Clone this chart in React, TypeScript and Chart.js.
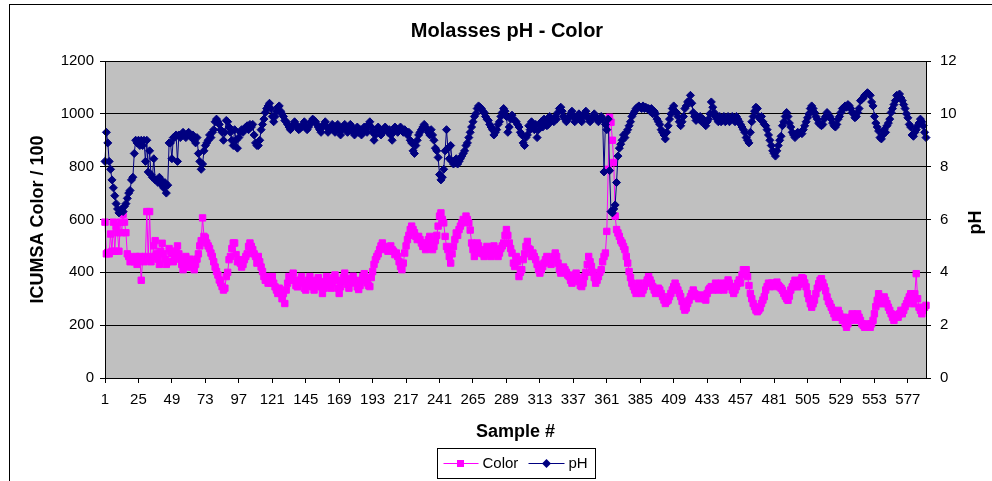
import React, { useEffect, useRef } from 'react';
import { Chart, registerables } from 'chart.js';

Chart.register(...registerables);

const FONT = '"Liberation Sans", Arial, Helvetica, sans-serif';

const chartTitle = 'Molasses pH - Color';
const xAxisTitle = 'Sample #';
const yAxisTitle = 'ICUMSA Color / 100';
const y1AxisTitle = 'pH';
const colorName = 'Color';
const phName = 'pH';

const colorTicks = [0, 200, 400, 600, 800, 1000, 1200];
const phTicks = [0, 2, 4, 6, 8, 10, 12];
const labelEvery = 24;

// ICUMSA Color / 100, samples 1..590
const colorValues = [
  590, 470, 475, 470, 545, 480, 590, 480, 575, 550,
  480, 590, 550, 620, 590, 550, 470, 460, 440, 450,
  450, 440, 460, 430, 445, 460, 370, 450, 440, 460,
  630, 450, 630, 440, 460, 500, 520, 470, 450, 430,
  480, 510, 470, 450, 430, 440, 490, 480, 470, 440,
  460, 480, 500, 470, 450, 430, 410, 440, 460, 420,
  430, 450, 420, 440, 410, 430, 450, 470, 500, 520,
  606, 536, 530, 511, 500, 490, 473, 460, 440, 420,
  403, 390, 371, 360, 346, 333, 340, 384, 400, 448,
  460, 490, 511, 511, 467, 440, 448, 435, 420, 430,
  448, 460, 470, 498, 511, 498, 486, 470, 460, 435,
  460, 440, 420, 403, 384, 370, 384, 359, 370, 359,
  384, 359, 345, 333, 320, 340, 320, 300, 320, 282,
  333, 359, 384, 370, 384, 397, 370, 350, 345, 360,
  370, 384, 360, 340, 333, 350, 370, 384, 365, 345,
  333, 350, 370, 380, 360, 345, 320, 340, 365, 384,
  370, 350, 340, 360, 380, 390, 370, 340, 320, 345,
  365, 380, 397, 375, 355, 340, 360, 375, 385, 370,
  360, 345, 335, 350, 370, 385, 395, 380, 360, 350,
  346, 380, 403, 430, 448, 460, 470, 486, 500, 511,
  498, 490, 486, 480, 490, 500, 486, 480, 467, 473,
  460, 440, 422, 410, 435, 473, 500, 524, 540, 562,
  575, 562, 550, 536, 524, 536, 524, 511, 498, 511,
  486, 498, 524, 536, 511, 486, 498, 520, 540, 575,
  613, 625, 600, 587, 536, 498, 486, 460, 435, 470,
  498, 524, 549, 540, 562, 575, 587, 600, 590, 613,
  600, 587, 560, 511, 486, 460, 486, 511, 500, 473,
  486, 470, 460, 480, 498, 490, 470, 460, 480, 500,
  486, 470, 460, 473, 490, 500, 511, 540, 562, 540,
  511, 490, 473, 435, 422, 460, 440, 384, 400, 410,
  448, 470, 498, 517, 490, 486, 460, 473, 460, 448,
  430, 410, 397, 410, 422, 435, 448, 460, 448, 440,
  430, 448, 460, 473, 460, 435, 410, 397, 410, 420,
  410, 400, 390, 384, 370, 359, 371, 390, 397, 380,
  365, 350, 346, 359, 384, 400, 430, 460, 440, 422,
  400, 380, 359, 370, 384, 400, 410, 440, 460, 473,
  555, 790, 987, 968, 900, 816, 613, 562, 549, 536,
  520, 511, 498, 486, 460, 435, 403, 380, 359, 346,
  333, 320, 333, 359, 333, 320, 333, 346, 360, 371,
  384, 371, 359, 346, 333, 320, 333, 340, 333, 320,
  308, 295, 282, 290, 295, 308, 320, 333, 346, 359,
  346, 333, 320, 308, 290, 270, 257, 265, 282, 295,
  308, 320, 333, 320, 314, 308, 300, 308, 314, 308,
  300, 295, 320, 333, 340, 346, 333, 340, 359, 346,
  333, 346, 359, 340, 333, 346, 359, 371, 359, 346,
  333, 320, 333, 346, 359, 371, 360, 390, 410, 397,
  410, 384, 350, 320, 300, 282, 270, 257, 251, 257,
  265, 282, 295, 308, 333, 346, 359, 346, 359, 359,
  346, 357, 363, 351, 345, 340, 332, 320, 310, 300,
  294, 310, 333, 345, 357, 370, 360, 345, 355, 370,
  380, 376, 360, 345, 319, 300, 281, 268, 281, 295,
  319, 340, 357, 370, 376, 360, 345, 330, 307, 290,
  281, 268, 256, 243, 230, 240, 256, 243, 230, 218,
  230, 205, 192, 205, 218, 230, 243, 230, 218, 230,
  243, 230, 218, 205, 199, 192, 199, 205, 199, 192,
  205, 218, 243, 270, 294, 319, 300, 281, 294, 307,
  294, 281, 268, 256, 243, 230, 218, 230, 240, 230,
  243, 256, 243, 256, 270, 281, 294, 307, 319, 294,
  281, 319, 395, 300, 268, 256, 243, 256, 268, 275,
];

// pH, samples 1..590
const phValues = [
  8.2, 9.3, 8.9, 8.2, 7.9, 7.5, 7.2, 6.9, 6.6, 6.4,
  6.25, 6.3, 6.4, 6.3, 6.5, 6.6, 6.8, 7.0, 7.1, 7.5,
  7.6, 8.5, 9.0, 8.9, 9.0, 8.8, 9.0, 8.8, 9.0, 8.2,
  9.0, 7.8, 8.6, 7.7, 7.6, 8.3, 7.5, 7.5, 7.4, 7.6,
  7.5, 7.3, 7.2, 7.4, 7.0, 7.3, 8.9, 8.9, 8.3, 9.1,
  9.1, 9.2, 8.2, 9.2, 9.1, 9.2, 9.3, 9.2, 9.1, 9.2,
  9.3, 9.2, 9.1, 9.2, 9.0, 8.9, 9.1, 8.5, 8.2, 7.9,
  8.1, 8.6, 8.8, 8.9, 9.0, 9.2, 9.1, 9.3, 9.4, 9.7,
  9.8, 9.7, 9.6, 9.4, 9.3, 9.0, 9.3, 9.75, 9.7, 9.5,
  9.3, 9.0, 8.8, 9.4, 9.0, 8.7, 9.1, 9.3, 9.4, 9.3,
  9.4, 9.5, 9.55, 9.4, 9.6, 9.5, 9.6, 9.2, 8.9, 8.8,
  8.8, 9.0, 9.4, 9.6, 9.8, 10.05, 10.2, 10.3, 10.4, 10.2,
  9.9, 9.7, 9.9, 10.1, 10.25, 10.3, 10.1, 10.0, 9.9, 9.75,
  9.7, 9.6, 9.5, 9.4, 9.5, 9.6, 9.7, 9.6, 9.5, 9.4,
  9.45, 9.5, 9.6, 9.7, 9.5, 9.4, 9.5, 9.6, 9.7, 9.8,
  9.75, 9.7, 9.6, 9.5, 9.4, 9.3, 9.5, 9.6, 9.7, 9.5,
  9.3, 9.4, 9.5, 9.6, 9.4, 9.3, 9.5, 9.6, 9.4, 9.2,
  9.4, 9.5, 9.6, 9.5, 9.3, 9.4, 9.6, 9.5, 9.3, 9.2,
  9.4, 9.5, 9.3, 9.4, 9.2, 9.3, 9.5, 9.4, 9.3, 9.6,
  9.7, 9.5, 9.3, 9.0, 9.2, 9.4, 9.5, 9.4, 9.2, 9.3,
  9.4, 9.5, 9.4, 9.3, 9.4, 9.2, 9.0, 9.3, 9.5, 9.4,
  9.3, 9.4, 9.5, 9.4, 9.3, 9.4, 9.3, 9.2, 9.3, 9.0,
  8.9, 8.6, 8.5, 8.8, 9.0, 9.2, 9.3, 9.4, 9.5, 9.6,
  9.5, 9.4, 9.3, 9.2, 9.4, 9.2, 9.0, 8.7, 8.6, 8.35,
  7.7, 7.5, 7.6, 7.9, 8.6, 9.4, 8.7, 8.3, 8.8, 8.2,
  8.1, 8.2, 8.3, 8.1, 8.2, 8.3, 8.4, 8.5, 8.6, 8.8,
  8.9, 9.1, 9.3, 9.5, 9.7, 9.9, 10.0, 10.2, 10.3, 10.25,
  10.2, 10.1, 10.05, 9.9, 9.8, 9.75, 9.6, 9.5, 9.4, 9.2,
  9.3, 9.4, 9.6, 9.7, 9.9, 10.05, 10.2, 10.1, 9.9, 9.3,
  9.5, 9.8, 9.95, 9.8, 9.75, 9.7, 9.6, 9.5, 9.3, 9.2,
  8.9, 8.8, 9.1, 9.2, 9.55, 9.4, 9.7, 9.5, 9.4, 9.6,
  9.1, 9.4, 9.6, 9.7, 9.5, 9.8, 9.7, 9.55, 9.6, 9.9,
  9.75, 9.8, 9.7, 9.9, 9.8, 10.05, 10.2, 10.25, 10.1, 9.9,
  9.8, 9.7, 9.8, 9.9, 10.0, 10.1, 9.9, 9.7, 9.8, 9.9,
  10.0, 9.8, 9.7, 9.9, 10.0, 10.1, 9.9, 9.8, 9.7, 9.8,
  9.9, 10.0, 9.9, 9.8, 9.7, 9.8, 9.9, 9.8, 7.8, 9.6,
  9.4, 9.8, 7.85, 6.3, 6.25, 6.4, 6.55, 7.4, 8.4, 8.7,
  8.85, 9.0, 9.2, 9.1, 9.3, 9.4, 9.55, 9.7, 9.9, 10.0,
  10.1, 10.2, 10.25, 10.3, 10.25, 10.2, 10.3, 10.2, 10.25, 10.2,
  10.2, 10.1, 10.2, 10.0, 10.1, 10.0, 9.8, 9.7, 9.6, 9.4,
  9.3, 9.2, 9.05, 9.3, 9.55, 9.8, 10.0, 10.2, 10.3, 10.1,
  10.05, 9.9, 9.7, 9.55, 9.7, 9.9, 10.2, 10.3, 10.45, 10.5,
  10.7, 10.4, 10.05, 9.9, 9.75, 9.9, 9.8, 9.9, 9.7, 9.8,
  9.7, 9.55, 9.7, 9.8, 10.0, 10.45, 10.25, 10.05, 9.9, 9.8,
  9.7, 9.9, 9.7, 9.8, 9.9, 9.7, 9.8, 9.9, 9.7, 9.8,
  9.9, 9.8, 9.7, 9.9, 9.8, 9.7, 9.6, 9.5, 9.4, 9.3,
  9.1, 9.0, 8.9, 9.3, 9.7, 9.9, 10.1, 10.25, 10.2, 9.9,
  9.8, 9.9, 9.7, 9.6, 9.55, 9.4, 9.2, 9.0, 8.8, 8.6,
  8.5, 8.4, 8.6, 8.8, 9.0, 9.15, 9.55, 9.7, 9.9, 10.05,
  9.9, 9.65, 9.5, 9.3, 9.2, 9.1, 9.2, 9.3, 9.25, 9.3,
  9.25, 9.4, 9.55, 9.7, 9.85, 10.0, 10.2, 10.3, 10.2, 10.05,
  9.9, 9.8, 9.65, 9.6, 9.55, 9.6, 9.8, 9.9, 10.05, 9.95,
  9.9, 9.8, 9.65, 9.55, 9.5, 9.6, 9.8, 9.9, 10.05, 10.2,
  10.2, 10.3, 10.25, 10.35, 10.3, 10.2, 10.05, 10.0, 9.85, 9.9,
  10.05, 10.2, 10.5, 10.55, 10.6, 10.7, 10.75, 10.8, 10.75, 10.7,
  10.45, 10.3, 9.9, 9.65, 9.5, 9.35, 9.1, 9.05, 9.2, 9.4,
  9.3, 9.55, 9.65, 9.8, 10.05, 10.2, 10.35, 10.5, 10.7, 10.65,
  10.75, 10.6, 10.5, 10.35, 10.2, 10.0, 9.85, 9.6, 9.5, 9.2,
  9.15, 9.3, 9.4, 9.55, 9.65, 9.8, 9.7, 9.55, 9.3, 9.1,
];

const sampleLabels = colorValues.map((_, i) => String(i + 1));

const PINK = '#FF00FF';
const NAVY = '#000080';

function drawSquare(ctx: CanvasRenderingContext2D, x: number, y: number, s: number, c: string) {
  ctx.fillStyle = c;
  ctx.fillRect(x - s / 2, y - s / 2, s, s);
}
function drawDiamond(ctx: CanvasRenderingContext2D, x: number, y: number, r: number, c: string) {
  ctx.fillStyle = c;
  ctx.beginPath();
  ctx.moveTo(x, y - r);
  ctx.lineTo(x + r, y);
  ctx.lineTo(x, y + r);
  ctx.lineTo(x - r, y);
  ctx.closePath();
  ctx.fill();
}

const decorPlugin = {
  id: 'decor',
  beforeDraw(chart: any) {
    const { ctx, chartArea: a } = chart;
    ctx.save();
    ctx.fillStyle = '#FFFFFF';
    ctx.fillRect(0, 0, chart.width, chart.height);
    ctx.fillStyle = '#C0C0C0';
    ctx.fillRect(a.left, a.top, a.right - a.left, a.bottom - a.top);
    ctx.restore();
  },
  afterDraw(chart: any) {
    const { ctx, chartArea: a } = chart;
    ctx.save();
    // outer chart frame
    ctx.strokeStyle = '#000000';
    ctx.lineWidth = 1;
    ctx.strokeRect(9.5, 4.5, 1000, 520);
    // plot area frame
    ctx.strokeRect(Math.round(a.left) + 0.5, Math.round(a.top) + 0.5, Math.round(a.right - a.left), Math.round(a.bottom - a.top));
    // secondary axis title (reads bottom to top)
    ctx.fillStyle = '#000000';
    ctx.font = `bold 18px ${FONT}`;
    ctx.textAlign = 'center';
    ctx.textBaseline = 'middle';
    ctx.translate(976, (a.top + a.bottom) / 2 + 3);
    ctx.rotate(-Math.PI / 2);
    ctx.fillText(y1AxisTitle, 0, 0);
    ctx.restore();

    // legend
    ctx.save();
    const cx = (a.left + a.right) / 2;
    const bx = Math.round(cx - 79) + 0.5;
    const by = 448.5;
    ctx.fillStyle = '#FFFFFF';
    ctx.fillRect(bx, by, 158, 30);
    ctx.strokeStyle = '#000000';
    ctx.lineWidth = 1;
    ctx.strokeRect(bx, by, 158, 30);
    const ly = 463.5;
    ctx.strokeStyle = PINK;
    ctx.beginPath();
    ctx.moveTo(bx + 6, ly);
    ctx.lineTo(bx + 41, ly);
    ctx.stroke();
    drawSquare(ctx, bx + 23, ly, 7, PINK);
    ctx.strokeStyle = NAVY;
    ctx.beginPath();
    ctx.moveTo(bx + 91, ly);
    ctx.lineTo(bx + 127, ly);
    ctx.stroke();
    drawDiamond(ctx, bx + 109, ly, 4.5, NAVY);
    ctx.fillStyle = '#000000';
    ctx.font = `15px ${FONT}`;
    ctx.textAlign = 'left';
    ctx.textBaseline = 'middle';
    ctx.fillText(colorName, bx + 45, ly);
    ctx.fillText(phName, bx + 131, ly);
    ctx.restore();
  },
};

export default function App() {
  const ref = useRef<HTMLCanvasElement | null>(null);
  useEffect(() => {
    if (!ref.current) return;
    const chart = new Chart(ref.current, {
      type: 'line',
      data: {
        labels: sampleLabels,
        datasets: [
          {
            label: colorName,
            data: colorValues,
            yAxisID: 'y',
            borderColor: PINK,
            backgroundColor: PINK,
            borderWidth: 1,
            pointStyle: 'rect',
            pointRadius: 4.5,
            pointBorderWidth: 1,
            pointBorderColor: PINK,
            pointBackgroundColor: PINK,
            tension: 0,
            order: 1,
          },
          {
            label: phName,
            data: phValues,
            yAxisID: 'y1',
            borderColor: NAVY,
            backgroundColor: NAVY,
            borderWidth: 1,
            pointStyle: 'rectRot',
            pointRadius: 4,
            pointBorderWidth: 1,
            pointBorderColor: NAVY,
            pointBackgroundColor: NAVY,
            tension: 0,
            order: 0,
          },
        ],
      },
      options: {
        animation: false,
        responsive: false,
        devicePixelRatio: 1,
        layout: { padding: { left: 22, right: 0, top: 0, bottom: 33 } },
        plugins: {
          legend: { display: false },
          tooltip: { enabled: false },
          title: {
            display: true,
            text: chartTitle,
            color: '#000000',
            font: { family: FONT, size: 20, weight: 'bold' },
            padding: { top: 19, bottom: 18 },
          },
        },
        scales: {
          x: {
            type: 'category',
            offset: false,
            afterFit: (s: any) => { s.height = 70; },
            grid: {
              drawOnChartArea: false,
              drawTicks: true,
              tickLength: 5,
              color: (c: any) => (c.index % labelEvery === 0 ? '#000000' : 'rgba(0,0,0,0)'),
              tickColor: (c: any) => (c.index % labelEvery === 0 ? '#000000' : 'rgba(0,0,0,0)'),
            },
            border: { display: true, color: '#000000' },
            ticks: {
              autoSkip: false,
              maxRotation: 0,
              minRotation: 0,
              padding: 8,
              color: '#000000',
              font: { family: FONT, size: 15 },
              callback: (_v: any, i: number) => (i % labelEvery === 0 ? sampleLabels[i] : ''),
            },
            title: {
              display: true,
              text: xAxisTitle,
              color: '#000000',
              font: { family: FONT, size: 18, weight: 'bold' },
              padding: { top: 0, bottom: 5 },
            },
          },
          y: {
            position: 'left',
            min: colorTicks[0],
            max: colorTicks[colorTicks.length - 1],
            afterFit: (s: any) => { s.width = 83; },
            afterBuildTicks: (s: any) => { s.ticks = colorTicks.map((v) => ({ value: v })); },
            grid: { color: '#000000', tickColor: '#000000', tickLength: 5, lineWidth: 1 },
            border: { display: true, color: '#000000' },
            ticks: {
              padding: 6,
              color: '#000000',
              font: { family: FONT, size: 15 },
              callback: (v: any) => String(v),
            },
            title: {
              display: true,
              text: yAxisTitle,
              color: '#000000',
              font: { family: FONT, size: 18, weight: 'bold' },
              padding: { top: 5, bottom: 0 },
            },
          },
          y1: {
            position: 'right',
            min: phTicks[0],
            max: phTicks[phTicks.length - 1],
            afterFit: (s: any) => { s.width = 66; },
            afterBuildTicks: (s: any) => { s.ticks = phTicks.map((v) => ({ value: v })); },
            grid: { drawOnChartArea: false, tickColor: '#000000', tickLength: 5 },
            border: { display: true, color: '#000000' },
            ticks: {
              padding: 9,
              color: '#000000',
              font: { family: FONT, size: 15 },
              callback: (v: any) => String(v),
            },
          },
        },
      },
      plugins: [decorPlugin],
    });
    return () => chart.destroy();
  }, []);

  return (
    <div style={{ position: 'fixed', left: 0, top: 0, width: 992, height: 481, background: '#fff' }}>
      <canvas ref={ref} width={992} height={481} style={{ width: 992, height: 481, display: 'block' }} />
    </div>
  );
}
